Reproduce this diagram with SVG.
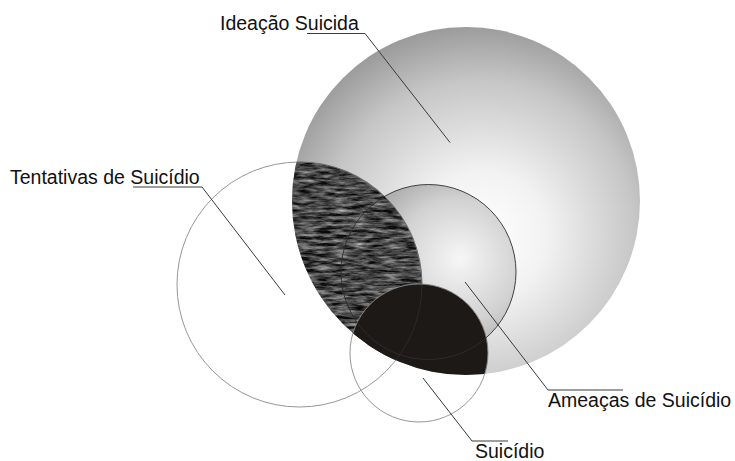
<svg xmlns="http://www.w3.org/2000/svg" width="735" height="461" viewBox="0 0 735 461">
<style>
.lbl{font-family:"Liberation Sans",Arial,sans-serif;font-size:19.5px;fill:#111}
.lead{stroke:#3a3a3a;stroke-width:1;fill:none}
.thin{fill:none;stroke:#8a8a8a;stroke-width:0.9}
</style>
<defs>
<radialGradient id="gBig" cx="0.54" cy="0.6" r="0.62" fx="0.55" fy="0.6">
<stop offset="0" stop-color="#ffffff"/>
<stop offset="0.3" stop-color="#f2f2f2"/>
<stop offset="0.72" stop-color="#c6c6c6"/>
<stop offset="1" stop-color="#979797"/>
</radialGradient>
<radialGradient id="gAm" cx="0.66" cy="0.45" r="0.7" fx="0.68" fy="0.42">
<stop offset="0" stop-color="#f6f6f6"/>
<stop offset="0.5" stop-color="#d2d2d2"/>
<stop offset="1" stop-color="#909090"/>
</radialGradient>
<filter id="tex" filterUnits="userSpaceOnUse" x="170" y="150" width="280" height="240" color-interpolation-filters="sRGB">
<feTurbulence type="fractalNoise" baseFrequency="0.06 0.3" numOctaves="4" seed="7"/>
<feColorMatrix type="matrix" values="1.1 0 0 0 -0.29  1.1 0 0 0 -0.29  1.1 0 0 0 -0.29  0 0 0 0 1"/>
</filter>
<clipPath id="cBig"><circle cx="466" cy="201" r="174"/></clipPath>
<clipPath id="cTent"><circle cx="299.5" cy="284.5" r="122.5"/></clipPath>
</defs>
<g id="ideacao">
<circle cx="466" cy="201" r="174" fill="url(#gBig)"/>
<text class="lbl" x="220" y="30">Ideação Suicida</text>
</g>
<g id="ameacas">
<circle cx="428.5" cy="272" r="87.5" fill="url(#gAm)"/>
<text class="lbl" x="548" y="407">Ameaças de Suicídio</text>
</g>
<g id="tentativas">
<g clip-path="url(#cBig)"><g clip-path="url(#cTent)">
<rect x="170" y="150" width="280" height="240" fill="#555" filter="url(#tex)" opacity="0.95"/>
</g></g>
<circle class="thin" cx="299.5" cy="284.5" r="122.5"/>
<text class="lbl" x="10" y="183.5">Tentativas de Suicídio</text>
</g>
<g id="suicidio">
<g clip-path="url(#cBig)">
<circle cx="419" cy="353" r="69" fill="#1c1916"/>
</g>
<circle class="thin" cx="419" cy="353" r="69"/>
<text class="lbl" x="475" y="458">Suicídio</text>
</g>
<circle cx="428.5" cy="272" r="87.5" fill="none" stroke="#2e2e2e" stroke-width="0.9"/>
<g clip-path="url(#cBig)"><circle cx="299.5" cy="284.5" r="122.5" fill="none" stroke="#444" stroke-width="0.7" opacity="0.6"/></g>
<g id="connectors">
<polyline class="lead" points="307,33.5 365,33.5 450,142.5"/>
<polyline class="lead" points="133,187 202,187 285,295"/>
<polyline class="lead" points="623,390 548,390 465,282"/>
<polyline class="lead" points="508,441 472,441 423,378"/>
</g>
</svg>
